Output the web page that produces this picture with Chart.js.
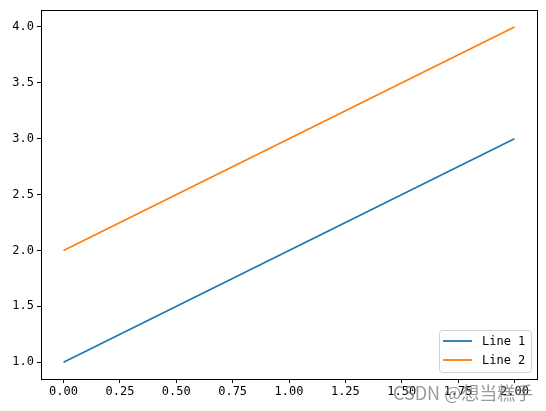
<!DOCTYPE html>
<html>
<head>
<meta charset="utf-8">
<script src="https://cdn.jsdelivr.net/npm/chart.js@4"></script>
<style>
  html, body { margin: 0; padding: 0; background: #fff; }
  #wrap { width: 546px; height: 411px; }
</style>
</head>
<body>
<div id="wrap"><canvas id="lineChart" width="546" height="411"></canvas></div>
<script>
const xValues = [0, 1, 2];
const line1 = [1, 2, 3];
const line2 = [2, 3, 4];
const xTicks = [0, 0.25, 0.5, 0.75, 1, 1.25, 1.5, 1.75, 2];
const yTicks = [1, 1.5, 2, 2.5, 3, 3.5, 4];

const tickFont = { family: "'DejaVu Sans Mono', 'Liberation Mono', monospace", size: 12 };

// frame + legend + watermark drawn on top
const framePlugin = {
    id: "framePlugin",
    afterDraw(chart) {
        const { ctx, chartArea: a } = chart;
        ctx.save();
        ctx.strokeStyle = "#000";
        ctx.lineWidth = 1;
        ctx.strokeRect(Math.round(a.left) + 0.5, Math.round(a.top) + 0.5,
            Math.round(a.right - a.left), Math.round(a.bottom - a.top));

        // legend, lower right
        const bx = 439, by = 330, bw = 92, bh = 42;
        ctx.fillStyle = "rgba(255,255,255,0.8)";
        ctx.strokeStyle = "#d0d0d0";
        ctx.beginPath();
        ctx.roundRect(bx + 0.5, by + 0.5, bw, bh, 3);
        ctx.fill();
        ctx.stroke();
        chart.data.datasets.forEach((ds, i) => {
            const y = by + 11 + i * 19;
            ctx.strokeStyle = ds.borderColor;
            ctx.lineWidth = 1.8;
            ctx.beginPath();
            ctx.moveTo(443, y);
            ctx.lineTo(472, y);
            ctx.stroke();
            ctx.fillStyle = "#000";
            ctx.font = "12px 'DejaVu Sans Mono', monospace";
            ctx.textBaseline = "middle";
            ctx.fillText(ds.label, 482, y + 1);
        });

        // watermark
        ctx.fillStyle = "rgba(120,120,120,0.75)";
        ctx.font = "18px 'Noto Sans CJK SC', sans-serif";
        ctx.textBaseline = "alphabetic";
        ctx.fillText("CSDN @想当糕手", 393, 400);
        ctx.restore();
    }
};

new Chart(document.getElementById("lineChart").getContext("2d"), {
    type: "line",
    data: {
        labels: xValues,
        datasets: [{
            label: "Line 1",
            data: xValues.map((x, i) => ({ x: x, y: line1[i] })),
            borderColor: "#1f77b4",
            borderWidth: 1.8,
            pointRadius: 0,
            tension: 0
        }, {
            label: "Line 2",
            data: xValues.map((x, i) => ({ x: x, y: line2[i] })),
            borderColor: "#ff7f0e",
            borderWidth: 1.8,
            pointRadius: 0,
            tension: 0
        }]
    },
    options: {
        responsive: false,
        animation: false,
        layout: { padding: { top: 9, right: 9, left: 0, bottom: 0 } },
        plugins: { legend: { display: false }, tooltip: { enabled: false } },
        scales: {
            x: {
                type: "linear",
                min: -0.1,
                max: 2.1,
                afterBuildTicks: s => { s.ticks = xTicks.map(v => ({ value: v })); },
                afterFit: s => { s.height = 32; },
                grid: { drawOnChartArea: false, drawTicks: true, tickLength: 4, color: "#000" },
                border: { display: true, color: "#000" },
                ticks: {
                    color: "#000",
                    font: tickFont,
                    padding: 2,
                    maxRotation: 0,
                    autoSkip: false,
                    callback: v => v.toFixed(2)
                }
            },
            y: {
                type: "linear",
                min: 0.85,
                max: 4.15,
                afterBuildTicks: s => { s.ticks = yTicks.map(v => ({ value: v })); },
                afterFit: s => { s.width = 41; },
                grid: { drawOnChartArea: false, drawTicks: true, tickLength: 4, color: "#000" },
                border: { display: true, color: "#000" },
                ticks: {
                    color: "#000",
                    font: tickFont,
                    padding: 3,
                    autoSkip: false,
                    callback: v => v.toFixed(1)
                }
            }
        }
    },
    plugins: [framePlugin]
});
</script>
</body>
</html>
